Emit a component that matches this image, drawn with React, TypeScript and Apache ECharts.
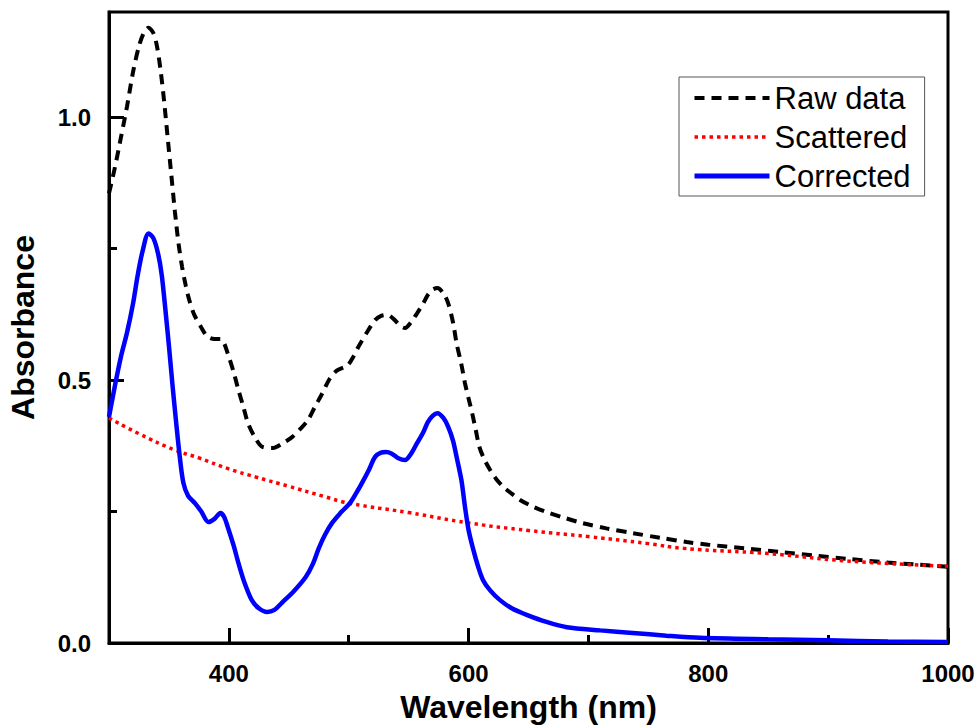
import React, { useEffect, useRef } from "react";
import * as echarts from "echarts";

const FONT = "'Liberation Sans', Arial, Helvetica, sans-serif";

// Raw data (black dashed)
const RAW_WL = [300, 305, 310, 315, 320, 325, 329, 333, 337, 340, 343, 346, 349, 352, 355, 358, 361, 364, 367, 371, 377, 382, 388, 393, 396, 399, 404, 408, 412, 416, 422, 428, 437, 445, 453, 460, 466, 472, 478, 484, 490, 499, 504, 508, 515, 522, 527, 532, 538, 543, 547, 552, 557, 562, 566, 570, 574, 579, 583, 587, 590, 594, 597, 600, 603, 606, 609, 613, 618, 623, 629, 636, 643, 653, 665, 680, 695, 715, 737, 760, 782, 800, 830, 860, 890, 916, 950, 975, 1000];
const RAW_ABS = [0.855, 0.905, 0.962, 1.02, 1.085, 1.135, 1.16, 1.17, 1.16, 1.135, 1.09, 1.03, 0.96, 0.89, 0.82, 0.76, 0.715, 0.68, 0.652, 0.625, 0.6, 0.583, 0.578, 0.578, 0.57, 0.551, 0.515, 0.481, 0.45, 0.418, 0.39, 0.373, 0.371, 0.38, 0.392, 0.408, 0.424, 0.45, 0.475, 0.502, 0.518, 0.528, 0.545, 0.563, 0.59, 0.614, 0.622, 0.624, 0.615, 0.603, 0.599, 0.61, 0.627, 0.645, 0.662, 0.672, 0.675, 0.665, 0.646, 0.61, 0.57, 0.53, 0.494, 0.465, 0.437, 0.405, 0.373, 0.35, 0.329, 0.312, 0.297, 0.284, 0.272, 0.26, 0.249, 0.238, 0.228, 0.218, 0.209, 0.2, 0.192, 0.187, 0.18, 0.173, 0.166, 0.16, 0.153, 0.149, 0.145];

// Scattered (red dotted)
const SCAT_WL = [300, 325, 355, 375, 400, 422, 450, 479, 500, 550, 601, 650, 701, 750, 779, 850, 916, 1000];
const SCAT_ABS = [0.428, 0.398, 0.367, 0.352, 0.331, 0.316, 0.298, 0.279, 0.266, 0.248, 0.228, 0.214, 0.202, 0.189, 0.18, 0.17, 0.156, 0.146];

// Corrected (blue solid)
const CORR_WL = [300, 305, 310, 315, 320, 324, 328, 333, 337, 341, 344, 347, 350, 353, 356, 359, 362, 366, 372, 377, 383, 388, 393, 396, 399, 404, 408, 413, 419, 425, 432, 438, 444, 454, 464, 470, 475, 480, 486, 493, 501, 506, 511, 517, 522, 527, 531, 536, 541, 547, 552, 557, 562, 566, 570, 574, 579, 583, 587, 590, 594, 597, 600, 604, 608, 612, 618, 626, 636, 649, 665, 682, 710, 737, 765, 793, 850, 900, 950, 1000];
const CORR_ABS = [0.43, 0.49, 0.545, 0.59, 0.645, 0.7, 0.745, 0.779, 0.77, 0.74, 0.7, 0.635, 0.565, 0.49, 0.42, 0.355, 0.305, 0.28, 0.265, 0.25, 0.23, 0.236, 0.247, 0.24, 0.221, 0.185, 0.152, 0.115, 0.082, 0.066, 0.059, 0.063, 0.076, 0.098, 0.125, 0.15, 0.18, 0.205, 0.228, 0.247, 0.266, 0.284, 0.304, 0.33, 0.354, 0.362, 0.363, 0.36, 0.352, 0.348, 0.36, 0.38, 0.4, 0.42, 0.432, 0.437, 0.428, 0.411, 0.385, 0.354, 0.31, 0.259, 0.215, 0.177, 0.145, 0.12, 0.1, 0.082, 0.066, 0.053, 0.04, 0.03, 0.024, 0.019, 0.014, 0.01, 0.007, 0.005, 0.003, 0.002];

const X_LABELS = [400, 600, 800, 1000];
const X_MINOR = [500, 700, 900];
const Y_LABELS = [0, 0.5, 1.0];
const Y_MAJOR = [0.5, 1.0];
const Y_MINOR = [0.25, 0.75];

const zip = (xs: number[], ys: number[]) => xs.map((x, i) => [x, ys[i]]);

export default function App() {
  const ref = useRef<HTMLDivElement>(null);
  useEffect(() => {
    if (!ref.current) return;
    const chart = echarts.init(ref.current, null, { renderer: "svg" });
    const axisCommon = { min: 300, max: 1000, type: "value" as const };
    const yCommon = { min: 0, max: 1.2, type: "value" as const };
    const hiddenSym = { opacity: 0 };
    chart.setOption({
      animation: false,
      backgroundColor: "#fff",
      grid: {
        left: 109,
        right: 32,
        top: 12,
        bottom: 84,
        containLabel: false,
        outerBoundsMode: "none",
        show: true,
        borderColor: "#000",
        borderWidth: 3,
      },
      legend: {
        orient: "vertical",
        left: 679,
        top: 77,
        padding: [5, 14, 4, 13],
        itemGap: 7,
        itemWidth: 75,
        itemHeight: 14,
        borderColor: "#555",
        borderWidth: 1,
        itemStyle: hiddenSym,
        textStyle: { fontFamily: FONT, fontSize: 31, lineHeight: 32, color: "#000" },
        data: [
          { name: "Raw data", itemStyle: hiddenSym, lineStyle: { color: "#000", width: 4, type: [10, 7] } },
          { name: "Scattered", itemStyle: hiddenSym, lineStyle: { color: "#ff0000", width: 3.5, type: [3.5, 4] } },
          { name: "Corrected", itemStyle: hiddenSym, lineStyle: { color: "#0000ff", width: 5, type: "solid" } },
        ],
      },
      xAxis: [
        {
          ...axisCommon,
          position: "bottom",
          name: "Wavelength (nm)",
          nameLocation: "middle",
          nameGap: 48,
          nameTextStyle: { fontFamily: FONT, fontSize: 32, fontWeight: "bold", color: "#000" },
          axisLine: { show: true, lineStyle: { color: "#000", width: 3 } },
          axisTick: { show: true, inside: true, length: 15, customValues: X_LABELS, lineStyle: { color: "#000", width: 3 } },
          axisLabel: {
            show: true,
            customValues: X_LABELS,
            margin: 18,
            fontFamily: FONT,
            fontSize: 24,
            fontWeight: "bold",
            color: "#000",
            formatter: (v: number) => String(v),
          },
          splitLine: { show: false },
        },
        {
          ...axisCommon,
          position: "bottom",
          axisLine: { show: false },
          axisTick: { show: true, inside: true, length: 8, customValues: X_MINOR, lineStyle: { color: "#000", width: 3 } },
          axisLabel: { show: false },
          splitLine: { show: false },
        },
      ],
      yAxis: [
        {
          ...yCommon,
          position: "left",
          name: "Absorbance",
          nameLocation: "middle",
          nameGap: 70,
          nameTextStyle: { fontFamily: FONT, fontSize: 32, fontWeight: "bold", color: "#000" },
          axisLine: { show: true, lineStyle: { color: "#000", width: 3 } },
          axisTick: { show: true, inside: true, length: 15, customValues: Y_MAJOR, lineStyle: { color: "#000", width: 3 } },
          axisLabel: {
            show: true,
            customValues: Y_LABELS,
            margin: 18,
            fontFamily: FONT,
            fontSize: 24,
            fontWeight: "bold",
            color: "#000",
            formatter: (v: number) => v.toFixed(1),
          },
          splitLine: { show: false },
        },
        {
          ...yCommon,
          position: "left",
          axisLine: { show: false },
          axisTick: { show: true, inside: true, length: 8, customValues: Y_MINOR, lineStyle: { color: "#000", width: 3 } },
          axisLabel: { show: false },
          splitLine: { show: false },
        },
      ],
      series: [
        {
          name: "Raw data",
          type: "line",
          xAxisIndex: 0,
          yAxisIndex: 0,
          data: zip(RAW_WL, RAW_ABS),
          showSymbol: false,
          symbol: "none",
          smooth: 0.3,
          lineStyle: { color: "#000", width: 4, type: [10, 7] },
          itemStyle: { color: "#000" },
          z: 3,
        },
        {
          name: "Scattered",
          type: "line",
          xAxisIndex: 0,
          yAxisIndex: 0,
          data: zip(SCAT_WL, SCAT_ABS),
          showSymbol: false,
          symbol: "none",
          smooth: true,
          lineStyle: { color: "#ff0000", width: 3.5, type: [3.5, 4] },
          itemStyle: { color: "#ff0000" },
          z: 4,
        },
        {
          name: "Corrected",
          type: "line",
          xAxisIndex: 0,
          yAxisIndex: 0,
          data: zip(CORR_WL, CORR_ABS),
          showSymbol: false,
          symbol: "none",
          smooth: 0.3,
          lineStyle: { color: "#0000ff", width: 4.5 },
          itemStyle: { color: "#0000ff" },
          z: 5,
        },
      ],
    });
    return () => chart.dispose();
  }, []);
  return <div ref={ref} style={{ width: 980, height: 727, position: "absolute", left: 0, top: 0 }} />;
}
